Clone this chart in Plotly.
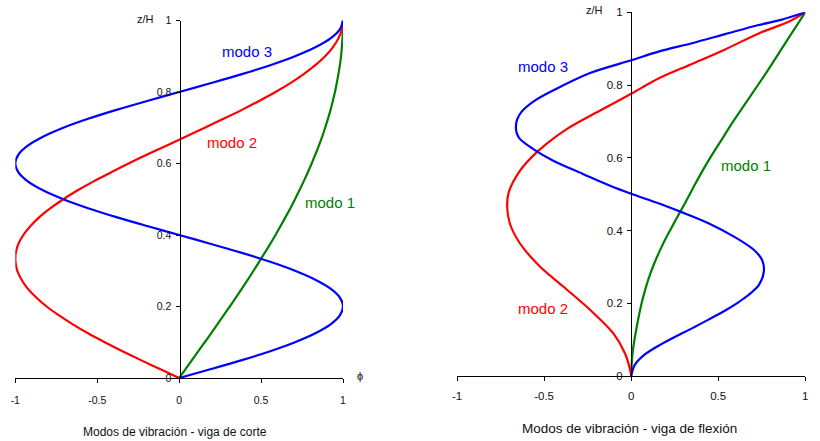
import plotly.graph_objects as go

# ---------------- data: shear beam (left) ----------------
z_corte = [0.0, 0.025, 0.05, 0.075, 0.10, 0.125, 0.15, 0.175, 0.20, 0.225, 0.25,
           0.275, 0.30, 0.325, 0.35, 0.375, 0.40, 0.425, 0.45, 0.475, 0.50,
           0.525, 0.55, 0.575, 0.60, 0.625, 0.65, 0.675, 0.70, 0.725, 0.75,
           0.775, 0.80, 0.825, 0.85, 0.875, 0.90, 0.925, 0.95, 0.975, 1.0]
corte_modo1 = [0.0, 0.039, 0.078, 0.117, 0.156, 0.195, 0.233, 0.271, 0.309, 0.346, 0.383,
               0.419, 0.454, 0.488, 0.522, 0.556, 0.588, 0.619, 0.649, 0.679, 0.707,
               0.734, 0.760, 0.785, 0.809, 0.831, 0.853, 0.873, 0.891, 0.908, 0.924,
               0.938, 0.951, 0.962, 0.972, 0.981, 0.988, 0.993, 0.997, 0.999, 1.0]
corte_modo2 = [0.0, -0.117, -0.233, -0.346, -0.454, -0.556, -0.649, -0.733, -0.809, -0.872, -0.924,
               -0.962, -0.988, -0.999, -0.997, -0.981, -0.951, -0.907, -0.853, -0.785, -0.707,
               -0.619, -0.522, -0.416, -0.309, -0.195, -0.078, 0.039, 0.156, 0.271, 0.383,
               0.488, 0.588, 0.679, 0.760, 0.831, 0.891, 0.938, 0.972, 0.993, 1.0]
corte_modo3 = [0.0, 0.195, 0.383, 0.556, 0.707, 0.831, 0.924, 0.981, 1.0, 0.981, 0.924,
               0.831, 0.707, 0.556, 0.383, 0.195, 0.0, -0.195, -0.383, -0.556, -0.707,
               -0.831, -0.924, -0.981, -1.0, -0.981, -0.924, -0.831, -0.707, -0.556, -0.383,
               -0.195, 0.0, 0.195, 0.383, 0.556, 0.707, 0.831, 0.924, 0.981, 1.0]

# ---------------- data: flexural beam (right) ----------------
flex_modo1_z = [0.0, 0.030, 0.071, 0.145, 0.200, 0.236, 0.273, 0.310, 0.346, 0.374, 0.401,
                0.438, 0.475, 0.521, 0.566, 0.603, 0.650, 0.702, 0.826, 0.915, 1.0]
flex_modo1_x = [0.0, 0.003, 0.010, 0.036, 0.060, 0.080, 0.104, 0.133, 0.166, 0.194, 0.224,
                0.266, 0.309, 0.360, 0.412, 0.458, 0.520, 0.589, 0.765, 0.885, 1.0]

flex_modo2_z = [0.0, 0.017, 0.062, 0.117, 0.182, 0.246, 0.301, 0.365, 0.420, 0.466, 0.505,
                0.564, 0.615, 0.679, 0.730, 0.776, 0.818, 0.858, 0.898, 0.942, 0.974, 1.0]
flex_modo2_x = [0.0, -0.006, -0.035, -0.102, -0.236, -0.390, -0.524, -0.639, -0.697, -0.712, -0.703,
                -0.639, -0.543, -0.370, -0.178, 0.0, 0.157, 0.349, 0.540, 0.732, 0.904, 1.0]

flex_modo3_z = [0.0, 0.030, 0.058, 0.084, 0.108, 0.131, 0.155, 0.180, 0.197, 0.220, 0.250,
                0.287, 0.319, 0.347, 0.381, 0.420, 0.452, 0.475, 0.501, 0.523, 0.555,
                0.592, 0.624, 0.652, 0.668, 0.684, 0.705, 0.725, 0.755, 0.787, 0.833,
                0.868, 0.892, 0.915, 0.940, 0.965, 0.980, 1.0]
flex_modo3_x = [0.0, 0.020, 0.075, 0.160, 0.253, 0.349, 0.444, 0.540, 0.598, 0.666, 0.733,
                0.762, 0.752, 0.704, 0.598, 0.444, 0.282, 0.157, 0.0, -0.121, -0.274,
                -0.447, -0.562, -0.639, -0.657, -0.662, -0.655, -0.632, -0.560, -0.440, -0.236,
                0.0, 0.157, 0.349, 0.540, 0.732, 0.866, 1.0]

x_tickvals = [-1, -0.5, 0, 0.5, 1]
x_ticktext = ["-1", "-0.5", "0", "0.5", "1"]
y_tickvals = [0, 0.2, 0.4, 0.6, 0.8, 1]
y_ticktext = ["0", "0.2", "0.4", "0.6", "0.8", "1"]

BLUE = "#0000FF"
RED = "#FF0000"
GREEN = "#008000"
FONT = "Liberation Sans, Arial, sans-serif"
TXT = "#111111"

W, H = 820, 441

fig = go.Figure()

line_kw = dict(shape="spline", smoothing=0.9, width=2.2)

# left traces
fig.add_trace(go.Scatter(x=corte_modo1, y=z_corte, mode="lines", line=dict(color=GREEN, **line_kw),
                         xaxis="x", yaxis="y", showlegend=False))
fig.add_trace(go.Scatter(x=corte_modo2, y=z_corte, mode="lines", line=dict(color=RED, **line_kw),
                         xaxis="x", yaxis="y", showlegend=False))
fig.add_trace(go.Scatter(x=corte_modo3, y=z_corte, mode="lines", line=dict(color=BLUE, **line_kw),
                         xaxis="x", yaxis="y", showlegend=False))
# right traces
fig.add_trace(go.Scatter(x=flex_modo1_x, y=flex_modo1_z, mode="lines", line=dict(color=GREEN, **line_kw),
                         xaxis="x2", yaxis="y2", showlegend=False))
fig.add_trace(go.Scatter(x=flex_modo2_x, y=flex_modo2_z, mode="lines", line=dict(color=RED, **line_kw),
                         xaxis="x2", yaxis="y2", showlegend=False))
fig.add_trace(go.Scatter(x=flex_modo3_x, y=flex_modo3_z, mode="lines", line=dict(color=BLUE, **line_kw),
                         xaxis="x2", yaxis="y2", showlegend=False))

def xax(domain, anchor, fs, standoff):
    return dict(domain=domain, range=[-1, 1], anchor=anchor, showgrid=False, zeroline=False,
                showline=True, linecolor="black", linewidth=1, ticks="outside", ticklen=4,
                tickcolor="black", tickwidth=1, tickvals=x_tickvals, ticktext=x_ticktext,
                tickfont=dict(family=FONT, size=fs, color=TXT), ticklabelstandoff=standoff,
                automargin=False, fixedrange=True)

def yax(domain, position, fs):
    return dict(domain=domain, range=[0, 1], anchor="free", position=position, side="left",
                showgrid=False, zeroline=False, showline=True, linecolor="black", linewidth=1,
                ticks="outside", ticklen=4, tickcolor="black", tickwidth=1,
                tickvals=y_tickvals, ticktext=y_ticktext,
                tickfont=dict(family=FONT, size=fs, color=TXT), ticklabelstandoff=2,
                automargin=False, fixedrange=True)

fig.update_layout(
    width=W, height=H,
    margin=dict(l=0, r=0, t=0, b=0, pad=0, autoexpand=False),
    paper_bgcolor="white", plot_bgcolor="white",
    xaxis=xax([15.3 / W, 343 / W], "y", 10.5, 8),
    yaxis=yax([(H - 378) / H, (H - 20.5) / H], 179.5 / W, 10.5),
    xaxis2=xax([457 / W, 805.3 / W], "y2", 11.5, 5),
    yaxis2=yax([(H - 376) / H, (H - 12.3) / H], 631 / W, 11.5),
)

def ann(x, y, text, color, size, xref="paper", yref="paper"):
    return dict(x=x, y=y, xref=xref, yref=yref, text=text, showarrow=False,
                xanchor="center", yanchor="middle",
                font=dict(family=FONT, size=size, color=color))

annotations = [
    ann(0.415, 0.912, "modo 3", BLUE, 15, "x", "y"),
    ann(0.323, 0.659, "modo 2", RED, 15, "x", "y"),
    ann(0.921, 0.491, "modo 1", GREEN, 15, "x", "y"),
    ann(-0.506, 0.850, "modo 3", BLUE, 15, "x2", "y2"),
    ann(0.662, 0.578, "modo 1", GREEN, 15, "x2", "y2"),
    ann(-0.507, 0.185, "modo 2", RED, 15, "x2", "y2"),
    ann(145.3 / W, 1 - 19.2 / H, "z/H", TXT, 11),
    ann(594.3 / W, 1 - 10 / H, "z/H", TXT, 11),
    ann(360 / W, 1 - 375.8 / H, "ϕ", TXT, 11),
    ann(175.3 / W, 1 - 432 / H, "Modos de vibración - viga de corte", TXT, 12),
    ann(629.7 / W, 1 - 428 / H, "Modos de vibración - viga de flexión", TXT, 13.5),
]
fig.update_layout(annotations=annotations)

fig.write_html("out.html")
